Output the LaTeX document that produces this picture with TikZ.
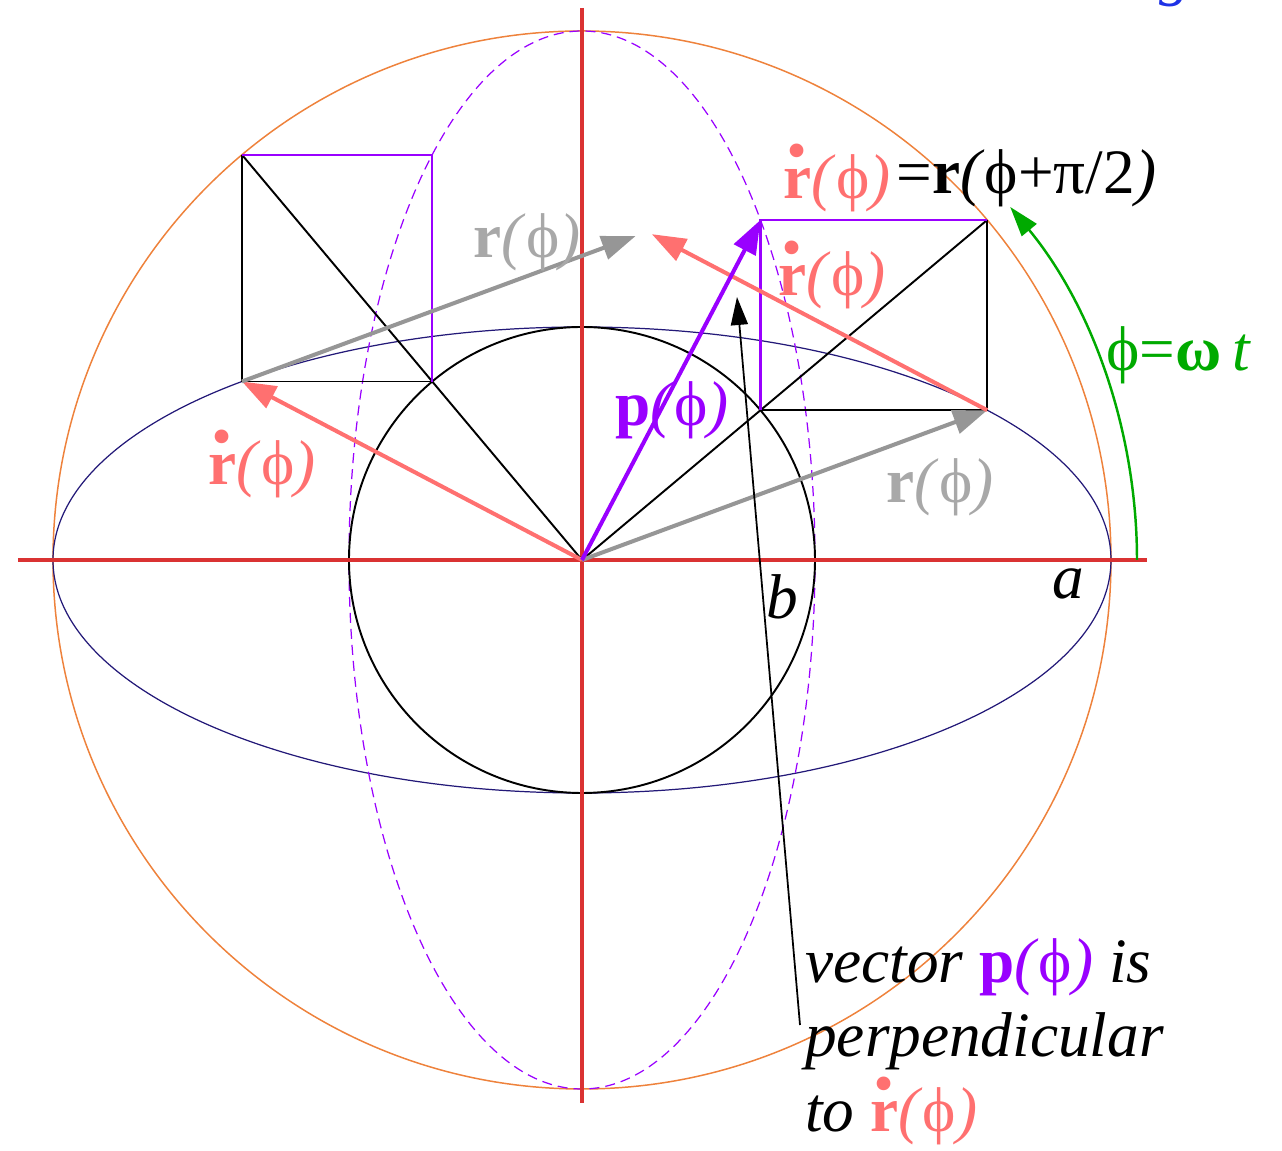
\documentclass[tikz,border=0pt]{standalone}
\usepackage{fontspec}
\setmainfont{Liberation Serif}
\usetikzlibrary{arrows.meta}

\definecolor{axisred}{RGB}{218,50,50}
\definecolor{circorange}{RGB}{238,130,60}
\definecolor{ellnavy}{RGB}{35,25,120}
\definecolor{vecpink}{RGB}{255,112,112}
\definecolor{vecgray}{RGB}{150,150,150}
\definecolor{labgray}{RGB}{168,168,168}
\definecolor{vecpurple}{RGB}{153,0,255}
\definecolor{arcgreen}{RGB}{0,170,0}
\definecolor{topblue}{RGB}{30,50,230}

\newcommand{\ph}{\symbol{"03D5}}
\newcommand{\pa}{\textit{(}\ph\textit{)}}
\newcommand{\rdt}{\rlap{\hspace{0.05em}\raisebox{0.66em}{\fontsize{48}{48}\selectfont\textbf{.}}}\textbf{r}}

\begin{document}
\begin{tikzpicture}[
    x=0.02cm, y=0.02cm,
    font=\fontsize{36}{42.5}\selectfont,
    axis/.style={axisred, line width=2.8pt},
    guide/.style={black, line width=1.1pt},
    box/.style={vecpurple, line width=1.2pt},
    vec/.style={-{Triangle[length=0.68cm, width=0.48cm]}, line width=2.3pt},
    pointer/.style={-{Triangle[length=0.56cm, width=0.34cm]}, black, line width=1pt},
]

\useasboundingbox (-582,560) rectangle (700,-591);

\def\ra{529}
\def\rb{233}
\def\ang{40}

% key points
\coordinate (O) at (0,0);
\coordinate (R) at ({\ra*cos(\ang)},{\rb*sin(\ang)});
\coordinate (Cb) at ({\rb*cos(\ang)},{\rb*sin(\ang)});
\coordinate (Ca) at ({\ra*cos(\ang)},{\ra*sin(\ang)});
\coordinate (P) at ({\rb*cos(\ang)},{\ra*sin(\ang)});
\coordinate (Rd) at ({-\ra*sin(\ang)},{\rb*cos(\ang)});
\coordinate (Cb2) at ({-\rb*sin(\ang)},{\rb*cos(\ang)});
\coordinate (Ca2) at ({-\ra*sin(\ang)},{\ra*cos(\ang)});
\coordinate (P2) at ({-\rb*sin(\ang)},{\ra*cos(\ang)});
\coordinate (Tip) at ({\ra*cos(\ang)-\ra*sin(\ang)},{\rb*sin(\ang)+\rb*cos(\ang)});

% circles and ellipses
\draw[circorange, line width=0.85pt] (O) circle (\ra);
\draw[ellnavy, line width=0.7pt] (O) ellipse ({\ra} and {\rb});
\draw[vecpurple, line width=0.7pt, dash pattern=on 0.2cm off 0.12cm] (O) ellipse ({\rb} and {\ra});
\draw[guide] (O) circle (\rb);

% axes
\coordinate (xL) at (-564,0);
\coordinate (xR) at (565,0);
\coordinate (yT) at (0,552);
\coordinate (yB) at (0,-543);
\draw[axis] (xL) -- (xR);
\draw[axis] (yT) -- (yB);

% construction boxes
\draw[guide] (O) -- (Ca);
\draw[guide] (Cb) -- (R) -- (Ca);
\draw[box] (Cb) -- (P) -- (Ca);
\draw[guide] (O) -- (Ca2);
\draw[guide] (Cb2) -- (Rd) -- (Ca2);
\draw[box] (Ca2) -- (P2) -- (Cb2);

% vectors
\draw[vec, vecgray] (O) -- (R);
\draw[vec, vecpink] (O) -- (Rd);
\draw[vec, vecgray, shorten >=7] (Rd) -- (Tip);
\draw[vec, vecpink, shorten >=3] (R) -- (Tip);
\draw[vec, vecpurple] (O) -- (P);

% angle arc
\coordinate (arcStart) at (555,0);
\draw[arcgreen, line width=1.4pt, -{Triangle[length=0.6cm, width=0.38cm]}] (arcStart) arc[start angle=0, end angle=39.5, radius=555];

% labels
\node[vecpink] (rdTop) at (255,382) {\rdt\pa};
\node[anchor=west, inner sep=0pt] (rTop) at (rdTop.east) {=\textbf{r}\textit{(}\ph+π/2\textit{)}};
\node[labgray] (rMid) at (-55,318) {\textbf{r}\pa};
\node[vecpink] (rdMid) at (250,285) {\rdt\pa};
\node[vecpurple] (pLab) at (90,150) {\textbf{p}\pa};
\node[vecpink] (rdLeft) at (-320,96) {\rdt\pa};
\node[labgray] (rRight) at (358,73) {\textbf{r}\pa};
\node (bLab) at (200,-37) {\textit{b}};
\node (aLab) at (486,-24) {\textit{a}};
\node[arcgreen] (phiLab) at (597,205) {\ph=\textbf{ω}\,\textit{t}};
\node[anchor=north west, align=left, inner sep=0pt] (note) at (223,-378)
    {\textit{vector} {\color{vecpurple}\textbf{p}\pa} \textit{is}\\
     \textit{perpendicular}\\
     \textit{to} {\color{vecpink}\rdt\pa}};
\node[topblue, anchor=base] (cut) at (593,566) {\textit{g}};

% pointer to p
\coordinate (noteEnd) at (218,-465);
\coordinate (pHint) at (155,263);
\draw[pointer] (noteEnd) -- (pHint);

\end{tikzpicture}
\end{document}
